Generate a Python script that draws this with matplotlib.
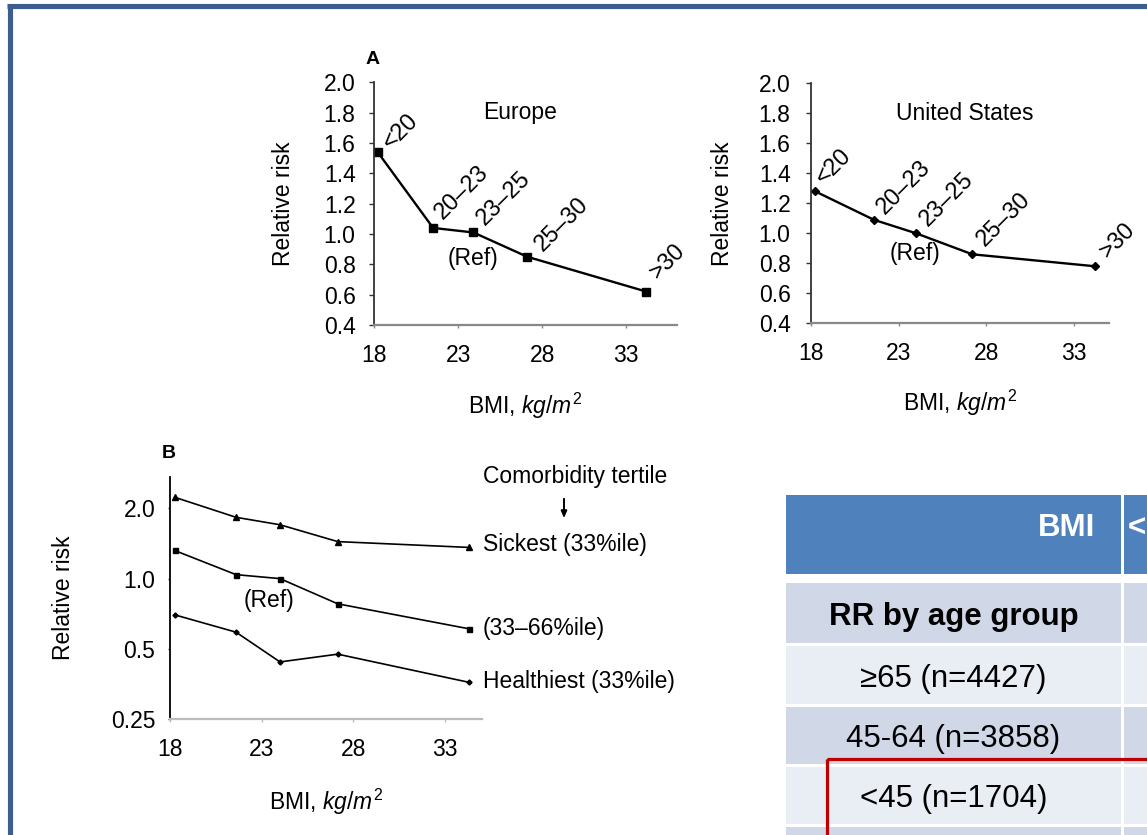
import matplotlib
matplotlib.use("Agg")
import matplotlib.pyplot as plt
from matplotlib.patches import Rectangle
from matplotlib.ticker import FixedLocator, FixedFormatter

plt.rcParams['font.family'] = ['Liberation Sans', 'DejaVu Sans']
plt.rcParams['mathtext.fontset'] = 'custom'
plt.rcParams['mathtext.rm'] = 'Liberation Sans'
plt.rcParams['mathtext.it'] = 'Liberation Sans:italic'

# ---------------- data ----------------
bmi_labels = ['<20', '20–23', '23–25', '25–30', '>30']

bmi_eu = [18.2, 21.5, 23.9, 27.1, 34.2]
rr_eu = [1.54, 1.04, 1.01, 0.85, 0.62]

bmi_us = [18.25, 21.6, 24.0, 27.2, 34.2]
rr_us = [1.28, 1.09, 1.00, 0.86, 0.78]

bmi_b = [18.25, 21.6, 24.0, 27.15, 34.3]
rr_sickest = [2.23, 1.83, 1.70, 1.44, 1.36]
rr_middle = [1.32, 1.04, 1.00, 0.78, 0.61]
rr_healthiest = [0.70, 0.59, 0.44, 0.475, 0.36]
tertile_labels = ['Sickest (33%ile)', '(33–66%ile)', 'Healthiest (33%ile)']

xticks_bmi = [18, 23, 28, 33]
yticks_a = [0.4, 0.6, 0.8, 1.0, 1.2, 1.4, 1.6, 1.8, 2.0]
yticks_b = [0.25, 0.5, 1.0, 2.0]
yticklabels_b = ['0.25', '0.5', '1.0', '2.0']

table_header = 'BMI'
table_rows = ['RR by age group', '≥65 (n=4427)', '45-64 (n=3858)', '<45 (n=1704)']

# ---------------- figure ----------------
W, H = 1147, 835
fig = plt.figure(figsize=(W / 100, H / 100), dpi=100)

ov = fig.add_axes([0, 0, 1, 1], zorder=-1)
ov.set_xlim(0, W)
ov.set_ylim(H, 0)
ov.axis('off')


def add_ax(x0, x1, ytop, ybot):
    ax = fig.add_axes([x0 / W, 1 - ybot / H, (x1 - x0) / W, (ybot - ytop) / H])
    ax.set_facecolor('none')
    return ax


FS = 16.5
YSPINE = '#333333'
XLABEL = 'BMI, $\\mathit{kg/m}^{\\mathit{2}}$'


def style_axes(ax, W_px, H_px, ylab_x_px, xlab_y_px, xspine_col, ypad):
    for s in ['top', 'right']:
        ax.spines[s].set_visible(False)
    ax.spines['left'].set_color(YSPINE)
    ax.spines['left'].set_linewidth(1.3)
    ax.spines['bottom'].set_color(xspine_col)
    ax.spines['bottom'].set_linewidth(1.6)
    ax.tick_params(axis='y', direction='out', length=3.5, width=1, color=YSPINE,
                   labelsize=FS, pad=ypad)
    ax.tick_params(axis='x', direction='out', length=2.5, width=1, color=xspine_col,
                   labelsize=FS, pad=11)
    ax.set_ylabel('Relative risk', fontsize=FS)
    ax.yaxis.set_label_coords(ylab_x_px / W_px, 0.5)
    ax.set_xlabel(XLABEL, fontsize=FS)
    ax.xaxis.set_label_coords(0.5, -xlab_y_px / H_px)
    ax.xaxis.label.set_va('center')
    ax.yaxis.label.set_va('center')


# ---- Panel A: Europe ----
x0, x1, yt, yb = 374.3, 676.7, 82.3, 325.0
axe = add_ax(x0, x1, yt, yb)
axe.set_xlim(18, 36)
axe.set_ylim(0.4, 2.0)
axe.plot(bmi_eu, rr_eu, color='black', lw=1.7, marker='s', ms=6, clip_on=False)
axe.set_xticks(xticks_bmi)
axe.set_yticks(yticks_a)
axe.set_yticklabels([f'{v:.1f}' for v in yticks_a])
style_axes(axe, x1 - x0, yb - yt, 283.3 - x0, 405.7 - yb, '#888888', 10)
eu_off = [(13, 2), (10, 8), (11, 6), (16, 5), (11, 12)]
for xv, yv, lab, off in zip(bmi_eu, rr_eu, bmi_labels, eu_off):
    axe.annotate(lab, (xv, yv), xytext=off, textcoords='offset pixels', rotation=45,
                 rotation_mode='anchor', ha='left', va='baseline', fontsize=17)
axe.text((520 - x0) / (x1 - x0), (yb - 112.7) / (yb - yt), 'Europe', transform=axe.transAxes,
         ha='center', va='center', fontsize=FS)
axe.text((472.5 - x0) / (x1 - x0), (yb - 258.3) / (yb - yt), '(Ref)', transform=axe.transAxes,
         ha='center', va='center', fontsize=FS)
fig.text(366 / W, 1 - 59 / H, 'A', fontsize=14, fontweight='bold', ha='left', va='center')

# ---- Panel A: United States ----
x0, x1, yt, yb = 810.7, 1109.3, 83.3, 323.3
axu = add_ax(x0, x1, yt, yb)
axu.set_xlim(18, 35)
axu.set_ylim(0.4, 2.0)
axu.plot(bmi_us, rr_us, color='black', lw=1.7, marker='D', ms=4, clip_on=False)
axu.set_xticks(xticks_bmi)
axu.set_yticks(yticks_a)
axu.set_yticklabels([f'{v:.1f}' for v in yticks_a])
style_axes(axu, x1 - x0, yb - yt, 722.5 - x0, 403.3 - yb, '#888888', 11)
us_off = [(9, 6), (11, 5), (12, 6), (13, 7), (13, 7)]
for xv, yv, lab, off in zip(bmi_us, rr_us, bmi_labels, us_off):
    axu.annotate(lab, (xv, yv), xytext=off, textcoords='offset pixels', rotation=45,
                 rotation_mode='anchor', ha='left', va='baseline', fontsize=17)
axu.text((965 - x0) / (x1 - x0), (yb - 113.5) / (yb - yt), 'United States',
         transform=axu.transAxes, ha='center', va='center', fontsize=FS)
axu.text((914.7 - x0) / (x1 - x0), (yb - 253.3) / (yb - yt), '(Ref)', transform=axu.transAxes,
         ha='center', va='center', fontsize=FS)

# ---- Panel B ----
x0, x1, yt, yb = 170.0, 481.7, 476.7, 719.3
axb = add_ax(x0, x1, yt, yb)
axb.set_yscale('log')
axb.set_xlim(18, 35)
axb.set_ylim(0.25, 2.73)
axb.plot(bmi_b, rr_sickest, color='black', lw=1.2, marker='^', ms=4, clip_on=False)
axb.plot(bmi_b, rr_middle, color='black', lw=1.2, marker='s', ms=3.6, clip_on=False)
axb.plot(bmi_b, rr_healthiest, color='black', lw=1.2, marker='D', ms=2.6, clip_on=False)
axb.set_xticks(xticks_bmi)
axb.yaxis.set_major_locator(FixedLocator(yticks_b))
axb.yaxis.set_major_formatter(FixedFormatter(yticklabels_b))
axb.yaxis.set_minor_locator(FixedLocator([]))
style_axes(axb, x1 - x0, yb - yt, 63.8 - x0, 801.7 - yb, '#bbbbbb', 9)
axb.spines['left'].set_color('black')
axb.tick_params(axis='y', length=1.5)
axb.text((269 - x0) / (x1 - x0), (yb - 600.7) / (yb - yt), '(Ref)', transform=axb.transAxes,
         ha='center', va='center', fontsize=FS)
fig.text(162 / W, 1 - 453 / H, 'B', fontsize=14, fontweight='bold', ha='left', va='center')

ov.text(483, 476.7, 'Comorbidity tertile', ha='left', va='center', fontsize=FS)
ov.annotate('', xy=(564, 521), xytext=(564, 496),
            arrowprops=dict(arrowstyle='-|>,head_length=0.4,head_width=0.17', color='black', lw=1.4))
for lab, yc in zip(tertile_labels, [545, 629, 681.7]):
    ov.text(483, yc, lab, ha='left', va='center', fontsize=FS)

# ---------------- slide frame ----------------
FRAME = '#3A5E8D'
ov.plot([7, W], [5.8, 5.8], color=FRAME, lw=3.7, solid_capstyle='butt')
ov.plot([9.8, 9.8], [3.5, H], color=FRAME, lw=3.7, solid_capstyle='butt')

# ---------------- table ----------------
HEAD = '#4F81BD'
DARK = '#D0D8E8'
LIGHT = '#E9EDF4'
tx0, tsep, tsep2 = 786, 1121, 1123.5
ov.add_patch(Rectangle((tx0, 495), tsep - tx0, 574.3 - 495, color=HEAD, lw=0))
ov.add_patch(Rectangle((tsep2, 495), W - tsep2 + 5, 574.3 - 495, color=HEAD, lw=0))
ov.text(1095, 525, table_header, color='white', fontsize=22.5, fontweight='bold',
        ha='right', va='center_baseline')
ov.text(1146, 525, '<', color='white', fontsize=22.5, fontweight='bold',
        ha='right', va='center_baseline')

row_spans = [(582.7, 643.3), (646, 704), (706.7, 764), (766.7, 824), (826.7, 860)]
row_cols = [DARK, LIGHT, DARK, LIGHT, DARK]
row_texts = table_rows + ['']
for i, ((ra, rb), col) in enumerate(zip(row_spans, row_cols)):
    ov.add_patch(Rectangle((tx0, ra), tsep - tx0, rb - ra, color=col, lw=0))
    ov.add_patch(Rectangle((tsep2, ra), W - tsep2 + 5, rb - ra, color=col, lw=0))
    if row_texts[i]:
        ov.text((tx0 + tsep) / 2, (ra + rb) / 2, row_texts[i], fontsize=22.5,
                fontweight='bold' if i == 0 else 'normal', ha='center', va='center_baseline',
                color='black')

ov.add_patch(Rectangle((826.5, 759), 500, 200, fill=False, ec='#C00000', lw=2.3))

fig.savefig('out.png', dpi=100)
